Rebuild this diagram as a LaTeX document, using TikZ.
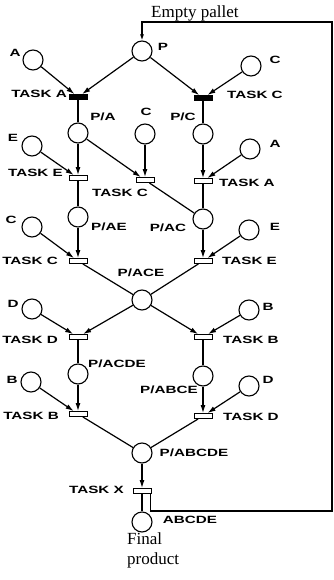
\documentclass[tikz,border=0pt]{standalone}
\usepackage{fontspec}
\setmainfont{Liberation Serif}
\newfontfamily\tasksans[FakeStretch=1.45]{Liberation Sans}
\usetikzlibrary{arrows.meta}

\begin{document}
\begin{tikzpicture}[x=1pt, y=-1pt,
    place/.style={circle, draw, line width=1.1pt, minimum size=20pt, inner sep=0pt},
    bar/.style={rectangle, draw, line width=0.9pt, fill=white, minimum width=18pt, minimum height=5pt, inner sep=0pt},
    fullbar/.style={bar, fill=black},
    tag/.style={font=\tasksans\bfseries\fontsize{10.5}{12}\selectfont, inner sep=0pt},
    note/.style={font=\fontsize{17}{20}\selectfont, inner sep=0pt},
    link/.style={line width=1.2pt},
    feed/.style={line width=1.2pt, -{Latex[length=8pt,width=5pt]}}]

    \useasboundingbox (0,0) rectangle (334,580);

    % Places
    \node[place] (pP) at (142,51) {};
    \node[place] (pA1) at (33,60) {};
    \node[place] (pC1) at (251,66) {};
    \node[place] (pPA) at (78,133) {};
    \node[place] (pC2) at (145,134) {};
    \node[place] (pPC) at (203,134) {};
    \node[place] (pE1) at (32,146) {};
    \node[place] (pA2) at (250,149) {};
    \node[place] (pPAE) at (78,217) {};
    \node[place] (pPAC) at (203,219) {};
    \node[place] (pC3) at (32,227) {};
    \node[place] (pE2) at (249,230) {};
    \node[place] (pPACE) at (142,300) {};
    \node[place] (pD1) at (32,309) {};
    \node[place] (pB1) at (249,310) {};
    \node[place] (pPACDE) at (78,374) {};
    \node[place] (pPABCE) at (203,376) {};
    \node[place] (pB2) at (31,382) {};
    \node[place] (pD2) at (249,386) {};
    \node[place] (pPABCDE) at (142,453) {};
    \node[place] (pABCDE) at (142,522) {};

    % Transitions
    \node[fullbar] (tA1) at (78,97) {};
    \node[fullbar] (tC1) at (203,98) {};
    \node[bar] (tE1) at (78,178) {};
    \node[bar] (tC2) at (145,180) {};
    \node[bar] (tA2) at (203,181) {};
    \node[bar] (tC3) at (78,261) {};
    \node[bar] (tE2) at (203,261) {};
    \node[bar] (tD1) at (78,337) {};
    \node[bar] (tB1) at (203,337) {};
    \node[bar] (tB2) at (78,414) {};
    \node[bar] (tD2) at (203,416) {};
    \node[bar] (tX) at (142,491) {};

    % Labels of places
    \node[tag] (lP) at (163,47) {P};
    \node[tag] (lA1) at (15,53) {A};
    \node[tag] (lC1) at (275,60) {C};
    \node[tag] (lPA) at (103,117) {P/A};
    \node[tag] (lC2) at (146,112) {C};
    \node[tag] (lPC) at (183,117) {P/C};
    \node[tag] (lE1) at (13,138) {E};
    \node[tag] (lA2) at (275,144) {A};
    \node[tag] (lPAE) at (109,227) {P/AE};
    \node[tag] (lPAC) at (168,228) {P/AC};
    \node[tag] (lC3) at (11,220) {C};
    \node[tag] (lE2) at (275,227) {E};
    \node[tag] (lPACE) at (141,273) {P/ACE};
    \node[tag] (lD1) at (13,304) {D};
    \node[tag] (lB1) at (268,307) {B};
    \node[tag] (lPACDE) at (117,364) {P/ACDE};
    \node[tag] (lPABCE) at (169,390) {P/ABCE};
    \node[tag] (lB2) at (12,380) {B};
    \node[tag] (lD2) at (268,380) {D};
    \node[tag] (lPABCDE) at (194,453) {P/ABCDE};
    \node[tag] (lABCDE) at (190,520) {ABCDE};

    % Labels of tasks
    \node[tag, anchor=east] (ltA1) at (67,94) {TASK A};
    \node[tag, anchor=west] (ltC1) at (227,95) {TASK C};
    \node[tag, anchor=east] (ltE1) at (63,173) {TASK E};
    \node[tag] (ltC2) at (120,193) {TASK C};
    \node[tag, anchor=west] (ltA2) at (219,183) {TASK A};
    \node[tag, anchor=east] (ltC3) at (58,261) {TASK C};
    \node[tag, anchor=west] (ltE2) at (222,261) {TASK E};
    \node[tag, anchor=east] (ltD1) at (58,340) {TASK D};
    \node[tag, anchor=west] (ltB1) at (223,340) {TASK B};
    \node[tag, anchor=east] (ltB2) at (59,416) {TASK B};
    \node[tag, anchor=west] (ltD2) at (223,417) {TASK D};
    \node[tag, anchor=east] (ltX) at (124,490) {TASK X};

    % Texts
    \node[note, anchor=base west] (empty) at (151,18) {Empty pallet};
    \node[note, align=left, anchor=west] (final) at (127,550) {Final\\product};

    % Arcs, first stage
    \draw[feed] (pP) -- (tA1);
    \draw[feed] (pP) -- (tC1);
    \draw[feed] (pA1) -- (tA1);
    \draw[feed] (pC1) -- (tC1);
    \draw[link] (tA1) -- (pPA);
    \draw[link] (tC1) -- (pPC);

    % Second stage
    \draw[feed] (pPA) -- (tE1);
    \draw[feed] (pE1) -- (tE1);
    \draw[feed] (pPA) -- (tC2);
    \draw[feed] (pC2) -- (tC2);
    \draw[feed] (pPC) -- (tA2);
    \draw[feed] (pA2) -- (tA2);
    \draw[link] (tE1) -- (pPAE);
    \draw[link] (tC2) -- (pPAC);
    \draw[link] (tA2) -- (pPAC);

    % Third stage
    \draw[feed] (pPAE) -- (tC3);
    \draw[feed] (pC3) -- (tC3);
    \draw[feed] (pPAC) -- (tE2);
    \draw[feed] (pE2) -- (tE2);
    \draw[link] (tC3) -- (pPACE);
    \draw[link] (tE2) -- (pPACE);

    % Fourth stage
    \draw[feed] (pPACE) -- (tD1);
    \draw[feed] (pPACE) -- (tB1);
    \draw[feed] (pD1) -- (tD1);
    \draw[feed] (pB1) -- (tB1);
    \draw[link] (tD1) -- (pPACDE);
    \draw[link] (tB1) -- (pPABCE);

    % Fifth stage
    \draw[feed] (pPACDE) -- (tB2);
    \draw[feed] (pB2) -- (tB2);
    \draw[feed] (pPABCE) -- (tD2);
    \draw[feed] (pD2) -- (tD2);
    \draw[link] (tB2) -- (pPABCDE);
    \draw[link] (tD2) -- (pPABCDE);

    % Final task and pallet return
    \draw[feed] (pPABCDE) -- (tX);
    \draw[link] (tX) -- (pABCDE);
    \coordinate (retB) at (332,511);
    \coordinate (retT) at (332,22);
    \coordinate (retP) at (142,22);
    \draw[line width=1.2pt, -{Latex[length=6pt,width=4pt]}]
        ([xshift=-1pt]tX.south east) |- (retB) -- (retT) -- (retP) -- (pP);

\end{tikzpicture}
\end{document}
